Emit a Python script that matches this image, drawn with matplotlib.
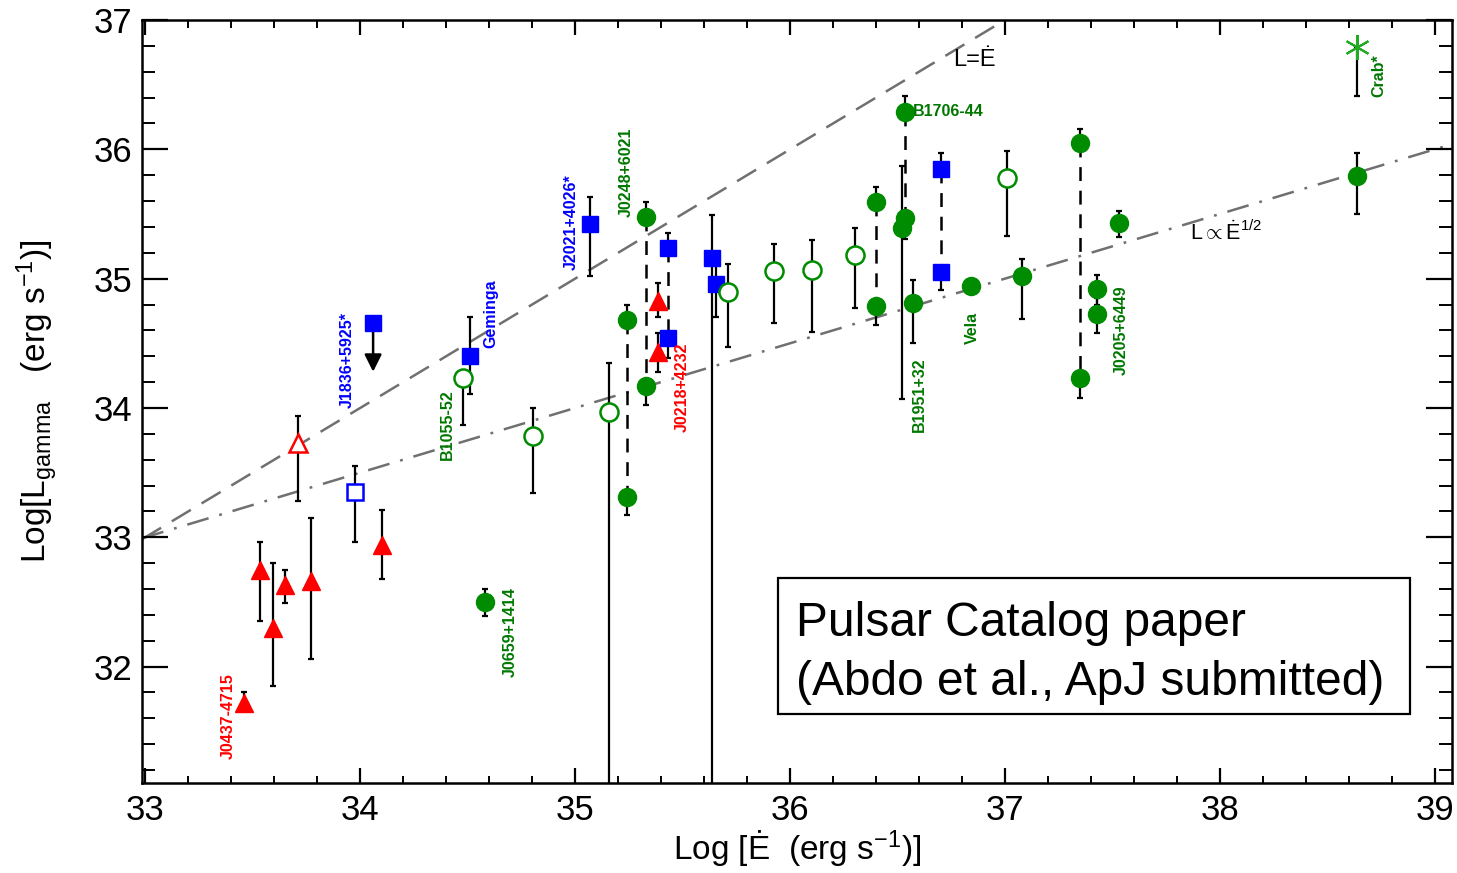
import matplotlib
matplotlib.use("Agg")
import matplotlib.pyplot as plt
from matplotlib.patches import Rectangle
import numpy as np

plt.rcParams['font.family'] = ['Liberation Sans', 'DejaVu Sans']
plt.rcParams['mathtext.fontset'] = 'custom'
plt.rcParams['mathtext.rm'] = 'Liberation Sans'
plt.rcParams['mathtext.it'] = 'Liberation Sans:italic'
plt.rcParams['lines.scale_dashes'] = False

# ---------------- data ----------------
# red filled triangles (MSPs): x, y, low, high
msp_x = [33.457, 33.536, 33.596, 33.648, 33.77, 34.10, 35.385, 35.385]
msp_y = [31.72, 32.745, 32.30, 32.63, 32.66, 32.94, 34.83, 34.43]
msp_lo = [31.66, 32.35, 31.85, 32.49, 32.06, 32.68, 34.70, 34.28]
msp_hi = [31.80, 32.96, 32.80, 32.75, 33.15, 33.21, 34.965, 34.58]

# red open triangle
msp_open_x = [33.71]
msp_open_y = [33.73]
msp_open_lo = [33.28]
msp_open_hi = [33.94]

# blue filled squares (single)
rq_x = [34.51, 35.07, 35.637, 35.657]
rq_y = [34.40, 35.42, 35.16, 34.955]
rq_lo = [34.11, 35.02, 30.0, 34.70]
rq_hi = [34.70, 35.63, 35.49, 35.20]

# blue upper limit (J1836+5925)
ul_x = [34.06]
ul_y = [34.66]
ul_to = [34.28]

# blue open square
rq_open_x = [33.974]
rq_open_y = [33.35]
rq_open_lo = [32.96]
rq_open_hi = [33.55]

# green open circles
rl_open_x = [34.477, 34.805, 35.157, 35.71, 35.925, 36.10, 36.30, 37.01]
rl_open_y = [34.23, 33.78, 33.97, 34.90, 35.06, 35.07, 35.18, 35.78]
rl_open_lo = [33.87, 33.34, 30.0, 34.47, 34.66, 34.59, 34.77, 35.33]
rl_open_hi = [34.28, 34.00, 34.35, 35.11, 35.27, 35.30, 35.39, 35.99]

# green filled circles (single)
rl_x = [34.58, 36.52, 36.57, 36.84, 37.08, 37.53, 37.43, 37.43, 38.64]
rl_y = [32.50, 35.39, 34.81, 34.94, 35.02, 35.43, 34.92, 34.73, 35.79]
rl_lo = [32.39, 34.07, 34.50, 34.90, 34.69, 35.32, 34.80, 34.58, 35.50]
rl_hi = [32.60, 35.87, 34.99, 34.98, 35.15, 35.52, 35.03, 34.85, 35.97]

# pairs (two distance estimates), connected by dashed line
pair_x = [35.24, 35.33, 35.43, 36.40, 36.537, 36.70, 37.35]
pair_top = [34.68, 35.48, 35.24, 35.59, 36.29, 35.85, 36.05]
pair_top_hi = [34.80, 35.59, 35.35, 35.71, 36.41, 35.97, 36.16]
pair_bot = [33.31, 34.17, 34.54, 34.79, 35.47, 35.05, 34.23]
pair_bot_lo = [33.17, 34.02, 34.39, 34.64, 35.31, 34.91, 34.08]
pair_kind = ['rl', 'rl', 'rq', 'rl', 'rl', 'rq', 'rl']

# Crab
crab_x = [38.64]
crab_y = [36.79]
crab_lo = [36.41]

# labels
label_text = ['J0437-4715', 'J1836+5925*', 'Geminga', 'B1055-52', 'J0659+1414',
              'J2021+4026*', 'J0248+6021', 'J0218+4232', 'B1706-44', 'B1951+32',
              'Vela', 'J0205+6449', 'Crab*']
label_kind = ['msp', 'rq', 'rq', 'rl', 'rl', 'rq', 'rl', 'msp', 'rl', 'rl', 'rl', 'rl', 'rl']
label_pos = [(33.387, 31.62), (33.94, 34.37), (34.607, 34.73), (34.407, 33.87),
             (34.696, 32.265), (34.98, 35.44), (35.236, 35.82), (35.497, 34.16),
             (36.573, 36.29), (36.60, 34.10), (36.85, 34.62), (37.54, 34.60),
             (38.74, 36.57)]
label_rot = [90, 90, 90, 90, 90, 90, 90, 90, 0, 90, 90, 90, 90]

xticks = [33, 34, 35, 36, 37, 38, 39]
yticks = [32, 33, 34, 35, 36, 37]

# ---------------- style ----------------
RED = '#ff0000'
BLUE = '#0000ff'
GREEN = '#008c00'
GREEN_TXT = '#007800'
colors = {'msp': RED, 'rq': BLUE, 'rl': GREEN}
txtcolors = {'msp': RED, 'rq': BLUE, 'rl': GREEN_TXT}
MS = 13
eb_kw = dict(fmt='none', ecolor='black', elinewidth=1.6, capsize=2.5, capthick=1.6, zorder=2)

fig = plt.figure(figsize=(14.57, 8.73), dpi=100)
ax = fig.add_axes([0.0975, 0.1031, 0.8991, 0.874])
ax.set_xlim(32.985, 39.08)
ax.set_ylim(31.1, 37.0)

# reference lines
xl = np.array([32.985, 39.08])
l1, = ax.plot(xl, xl, color='#707070', lw=1.8, zorder=1)
l1.set_dashes([16, 9])
l2, = ax.plot(xl, 33 + 0.5 * (xl - 33), color='#707070', lw=1.8, zorder=1)
l2.set_dashes([16, 8, 2, 8])
ax.text(36.76, 36.69, 'L=Ė', fontsize=17, ha='left', va='center', color='black')
ax.text(37.86, 35.36, r'L$\propto$Ė$^{1/2}$', fontsize=15.5, ha='left', va='center', color='black')

def ebar(x, y, lo, hi):
    x = np.asarray(x); y = np.asarray(y)
    ax.errorbar(x, y, yerr=[y - np.asarray(lo), np.asarray(hi) - y], **eb_kw)

# error bars
ebar(msp_x, msp_y, msp_lo, msp_hi)
ebar(msp_open_x, msp_open_y, msp_open_lo, msp_open_hi)
ebar(rq_x, rq_y, rq_lo, rq_hi)
ebar(rq_open_x, rq_open_y, rq_open_lo, rq_open_hi)
ebar(rl_open_x, rl_open_y, rl_open_lo, rl_open_hi)
ebar(rl_x, rl_y, rl_lo, rl_hi)
ebar(crab_x, crab_y, crab_lo, crab_y)
ebar(pair_x, pair_top, pair_top, pair_top_hi)
ebar(pair_x, pair_bot, pair_bot_lo, pair_bot)
for x, t, b in zip(pair_x, pair_top, pair_bot):
    ln, = ax.plot([x, x], [t, b], color='black', lw=1.8, zorder=2)
    ln.set_dashes([10, 7])

# upper limit arrow
for x, y, t in zip(ul_x, ul_y, ul_to):
    ax.annotate('', xy=(x, t), xytext=(x, y),
                arrowprops=dict(arrowstyle='-|>', color='black', lw=1.8,
                                mutation_scale=26, shrinkA=0, shrinkB=0), zorder=2)

# markers
ax.plot(msp_x, msp_y, '^', color=RED, ms=MS, mec=RED, zorder=3)
ax.plot(msp_open_x, msp_open_y, '^', mfc='white', mec=RED, mew=1.8, ms=MS, zorder=3)
ax.plot(rq_x, rq_y, 's', color=BLUE, ms=MS - 1, zorder=3)
ax.plot(ul_x, ul_y, 's', color=BLUE, ms=MS - 1, zorder=3)
ax.plot(rq_open_x, rq_open_y, 's', mfc='white', mec=BLUE, mew=1.8, ms=MS - 1, zorder=3)
ax.plot(rl_open_x, rl_open_y, 'o', mfc='white', mec=GREEN, mew=1.8, ms=MS, zorder=3)
ax.plot(rl_x, rl_y, 'o', color=GREEN, ms=MS, zorder=3)
for x, t, b, k in zip(pair_x, pair_top, pair_bot, pair_kind):
    m = 's' if k == 'rq' else 'o'
    s = MS - 1 if k == 'rq' else MS
    ax.plot([x, x], [t, b], m, color=colors[k], ms=s, ls='none', zorder=3)
ax.plot(crab_x, crab_y, marker=(6, 2, 0), color='#22aa22', mec='#22aa22', mew=1.5,
        ms=18, ls='none', zorder=3)

# labels
for t, k, (x, y), r in zip(label_text, label_kind, label_pos, label_rot):
    ax.text(x, y, t, color=txtcolors[k], fontsize=11.5, fontweight='bold',
            rotation=r, ha='left' if r == 0 else 'center', va='center', zorder=4)

# box
ax.add_patch(Rectangle((0.4855, 0.0904), 0.4825, 0.1783, transform=ax.transAxes,
                       fill=False, ec='black', lw=1.6, zorder=5))
ax.text(0.4995, 0.171, 'Pulsar Catalog paper\n(Abdo et al., ApJ submitted)',
        transform=ax.transAxes, fontsize=34.5, ha='left', va='center',
        linespacing=1.4, zorder=5)

# axes styling
ax.set_xticks(xticks)
ax.set_yticks(yticks)
ax.set_xticklabels([str(v) for v in xticks])
ax.set_yticklabels([str(v) for v in yticks])
ax.set_xticks(np.arange(33.0, 39.01, 0.2), minor=True)
ax.set_yticks(np.arange(31.2, 37.01, 0.2), minor=True)
ax.tick_params(axis='x', which='major', direction='in', length=10.8, width=1.6,
               top=True, bottom=True, labelsize=25, pad=8)
ax.tick_params(axis='x', which='minor', direction='in', length=5.4, width=1.4,
               top=True, bottom=True)
ax.tick_params(axis='y', which='major', direction='in', length=18.8, width=1.6,
               left=True, right=True, labelsize=25, pad=7)
ax.tick_params(axis='y', which='minor', direction='in', length=9.4, width=1.4,
               left=True, right=True)
for sp in ax.spines.values():
    sp.set_linewidth(1.8)

ax.set_xlabel('Log [Ė  (erg s$^{-1}$)]', fontsize=24, labelpad=1)
ax.set_ylabel(r'Log[L$_{\rm gamma}$   (erg s$^{-1}$)]', fontsize=24, labelpad=24)

fig.savefig('out.png', dpi=100)
